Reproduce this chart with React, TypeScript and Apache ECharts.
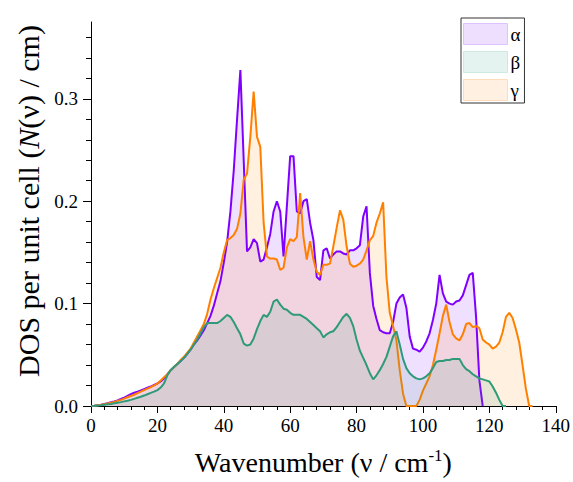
import React, { useEffect, useRef } from "react";
import * as echarts from "echarts";

// wavenumber grid starts at 0, step 1 cm^-1
const alphaDOS = [
  0, 0.0003, 0.0008, 0.0013, 0.002, 0.0028, 0.0036, 0.0045, 0.0055, 0.0068,
  0.0082, 0.0098, 0.0115, 0.013, 0.014, 0.0152, 0.0165, 0.0178, 0.019, 0.0205,
  0.022, 0.024, 0.027, 0.031, 0.035, 0.038, 0.041, 0.044, 0.047, 0.051,
  0.055, 0.06, 0.064, 0.069, 0.074, 0.081, 0.088, 0.098, 0.11, 0.122,
  0.14, 0.16, 0.19, 0.23, 0.28, 0.328, 0.24, 0.151, 0.155, 0.163,
  0.159, 0.141, 0.143, 0.155, 0.168, 0.19, 0.2, 0.19, 0.146, 0.195,
  0.244, 0.244, 0.19, 0.188, 0.2, 0.202, 0.179, 0.162, 0.126, 0.123,
  0.152, 0.154, 0.144, 0.148, 0.151, 0.151, 0.149, 0.148, 0.152, 0.152,
  0.154, 0.157, 0.185, 0.195, 0.13, 0.098, 0.085, 0.074, 0.072, 0.071,
  0.071, 0.082, 0.1, 0.106, 0.109, 0.096, 0.068, 0.056, 0.055, 0.053,
  0.057, 0.063, 0.071, 0.084, 0.1, 0.128, 0.11, 0.102, 0.1, 0.099,
  0.102, 0.103, 0.108, 0.118, 0.128, 0.13, 0.087, 0.025, 0
];

const betaDOS = [
  0, 0.0002, 0.0005, 0.0008, 0.0012, 0.0016, 0.002, 0.0026, 0.0032, 0.0038,
  0.0045, 0.0052, 0.006, 0.007, 0.008, 0.009, 0.0102, 0.0115, 0.0128, 0.014,
  0.0155, 0.018, 0.022, 0.03, 0.035, 0.038, 0.041, 0.044, 0.047, 0.051,
  0.055, 0.06, 0.065, 0.071, 0.077, 0.081, 0.081, 0.081, 0.081, 0.083,
  0.086, 0.089, 0.087, 0.082, 0.076, 0.07, 0.061, 0.059, 0.06, 0.066,
  0.075, 0.083, 0.089, 0.087, 0.092, 0.102, 0.104, 0.099, 0.095, 0.094,
  0.091, 0.089, 0.089, 0.089, 0.087, 0.085, 0.082, 0.079, 0.076, 0.073,
  0.067, 0.07, 0.072, 0.073, 0.077, 0.082, 0.087, 0.09, 0.086, 0.078,
  0.065, 0.054, 0.047, 0.04, 0.032, 0.026, 0.03, 0.035, 0.041, 0.048,
  0.058, 0.068, 0.073, 0.06, 0.046, 0.037, 0.032, 0.029, 0.027, 0.026,
  0.027, 0.029, 0.032, 0.037, 0.043, 0.044, 0.044, 0.045, 0.045, 0.046,
  0.046, 0.046, 0.04, 0.036, 0.034, 0.031, 0.029, 0.027, 0.026, 0.025,
  0.024, 0.019, 0.013, 0.006, 0, 0
];

const gammaDOS = [
  0, 0.0003, 0.0007, 0.0012, 0.0018, 0.0025, 0.0032, 0.004, 0.005, 0.006,
  0.0072, 0.0085, 0.0098, 0.011, 0.0125, 0.014, 0.0155, 0.017, 0.0185, 0.02,
  0.022, 0.025, 0.028, 0.031, 0.035, 0.038, 0.041, 0.045, 0.048, 0.052,
  0.056, 0.062, 0.068, 0.074, 0.08, 0.09, 0.104, 0.115, 0.125, 0.135,
  0.15, 0.162, 0.164, 0.167, 0.173, 0.188, 0.221, 0.227, 0.263, 0.307,
  0.263, 0.253, 0.179, 0.146, 0.144, 0.144, 0.143, 0.133, 0.135, 0.155,
  0.163, 0.161, 0.165, 0.208, 0.165, 0.143, 0.161, 0.143, 0.131, 0.128,
  0.138, 0.138, 0.139, 0.156, 0.174, 0.191, 0.182, 0.156, 0.139, 0.136,
  0.137, 0.139, 0.143, 0.152, 0.162, 0.166, 0.179, 0.188, 0.199, 0.126,
  0.091, 0.078, 0.064, 0.035, 0.012, 0, 0, 0, 0, 0.006,
  0.015, 0.022, 0.029, 0.04, 0.055, 0.071, 0.088, 0.099, 0.082, 0.07,
  0.066, 0.064, 0.07, 0.08, 0.081, 0.077, 0.078, 0.076, 0.065, 0.062,
  0.06, 0.056, 0.058, 0.062, 0.072, 0.087, 0.091, 0.086, 0.075, 0.062,
  0.04, 0.017, 0, 0
];

const seriesNames = ["α", "β", "γ"];
const lineColors = ["#8000ff", "#2e9a78", "#ff8000"];
const swatchFills = ["#eedffe", "#e4f3ef", "#fff0e2"];
const swatchBorders = ["#dcc2fe", "#cde9e0", "#ffdcb9"];
const yMajorTicks = [0, 0.1, 0.2, 0.3];
const yMinorTicks = [0.02, 0.04, 0.06, 0.08, 0.12, 0.14, 0.16, 0.18, 0.22, 0.24, 0.26, 0.28, 0.32, 0.34, 0.36];

const FONT = "'Liberation Serif', 'Times New Roman', serif";
const serifRich = { t: { fontFamily: FONT, fontSize: 19, color: "#000" } };

export default function App() {
  const ref = useRef<HTMLDivElement>(null);
  useEffect(() => {
    if (!ref.current) return;
    document.body.style.margin = "0";
    const chart = echarts.init(ref.current, null, { renderer: "svg" });
    const datasets = [alphaDOS, betaDOS, gammaDOS];
    const series = datasets.map((arr, i) => ({
      name: seriesNames[i],
      type: "line",
      data: arr.map((v, k) => [k, v]),
      showSymbol: false,
      symbol: "none",
      lineStyle: { color: lineColors[i], width: 2 },
      itemStyle: { color: lineColors[i] },
      areaStyle: { color: lineColors[i], opacity: 0.12 },
      z: i === 1 ? 4 : 3,
    }));
    const yBase = {
      type: "value",
      min: 0,
      max: 0.375,
      interval: 0.1,
      position: "left",
      offset: 0,
      splitLine: { show: false },
    };
    chart.setOption({
      animation: false,
      grid: { left: 91, right: 17, top: 22, bottom: 76, containLabel: false },
      legend: {
        show: true,
        orient: "vertical",
        left: 461,
        top: 18,
        padding: [5, 4, 2, 2],
        itemGap: 6,
        itemWidth: 44,
        itemHeight: 21,
        icon: "rect",
        borderColor: "#333",
        borderWidth: 1,
        selectedMode: false,
        formatter: (n: string) => `{t|${n}}`,
        textStyle: { fontFamily: FONT, fontSize: 19, color: "#000", padding: [0, 0, 0, -2], rich: serifRich },
        data: seriesNames.map((n, i) => ({
          name: n,
          itemStyle: { color: swatchFills[i], borderColor: swatchBorders[i], borderWidth: 1 },
        })),
      },
      xAxis: {
        type: "value",
        min: 0,
        max: 140,
        interval: 20,
        splitLine: { show: false },
        axisLine: { show: true, onZero: false, lineStyle: { color: "#000", width: 1 } },
        axisTick: { show: true, length: 7, lineStyle: { color: "#000" } },
        minorTick: { show: true, splitNumber: 5, length: 4, lineStyle: { color: "#000" } },
        axisLabel: {
          fontFamily: FONT,
          fontSize: 19,
          color: "#000",
          margin: 10,
          formatter: (v: number) => `{t|${v}}`,
          rich: serifRich,
        },
        name: "Wavenumber (ν / cm{sup|-1})",
        nameLocation: "middle",
        nameGap: 41,
        nameTextStyle: {
          fontFamily: FONT,
          fontSize: 28,
          color: "#000",
          rich: {
            sup: { fontFamily: FONT, fontSize: 17, color: "#000", padding: [0, 0, 13, 0] },
          },
        },
      },
      yAxis: [
        {
          ...yBase,
          axisLine: { show: true, lineStyle: { color: "#000", width: 1 } },
          axisTick: { show: true, length: 8, customValues: yMajorTicks, lineStyle: { color: "#000" } },
          axisLabel: {
            fontFamily: FONT,
            fontSize: 19,
            color: "#000",
            margin: 13,
            customValues: yMajorTicks,
            formatter: (v: number) => `{t|${v.toFixed(1)}}`,
            rich: serifRich,
          },
          name: "DOS per unit cell ({i|N}(ν) / cm)",
          nameLocation: "middle",
          nameGap: 48,
          nameTextStyle: {
            fontFamily: FONT,
            fontSize: 30,
            color: "#000",
            padding: [0, 0, 0, 26],
            rich: { i: { fontFamily: FONT, fontSize: 30, fontStyle: "italic", color: "#000" } },
          },
        },
        {
          ...yBase,
          axisLine: { show: false },
          axisTick: { show: true, length: 5, customValues: yMinorTicks, lineStyle: { color: "#000" } },
          axisLabel: { show: false },
        },
      ],
      series,
    });
    return () => chart.dispose();
  }, []);
  return <div ref={ref} style={{ width: 573, height: 482 }} />;
}
